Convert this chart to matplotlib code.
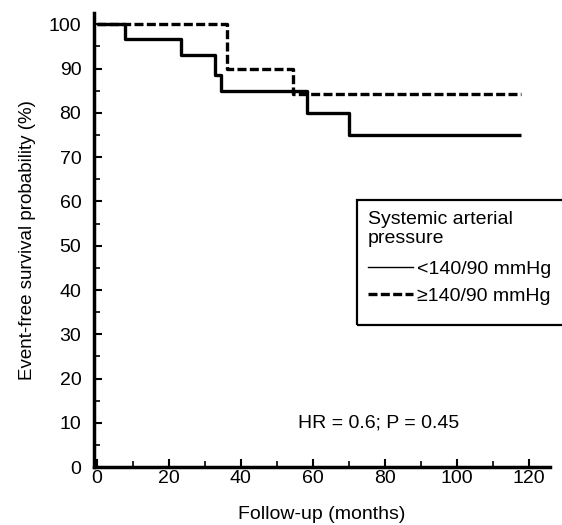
import matplotlib.pyplot as plt
from matplotlib.lines import Line2D
from matplotlib.patches import Rectangle

plt.rcParams['font.family'] = ['Liberation Sans', 'DejaVu Sans']

# Kaplan-Meier step data (months, survival %)
low_t = [0, 7.8, 23.5, 33, 34.6, 58.4, 70, 118]
low_s = [100, 96.6, 93.0, 88.6, 85.0, 80.0, 75.0, 75.0]
high_t = [0, 36.3, 54.6, 118]
high_s = [100, 90.0, 84.3, 84.3]

x_ticks = [0, 20, 40, 60, 80, 100, 120]
y_ticks = [0, 10, 20, 30, 40, 50, 60, 70, 80, 90, 100]

dash = (0, (2.7, 1.0))

fig = plt.figure(figsize=(5.62, 5.25), dpi=100)
ax = fig.add_axes([0.167, 0.110, 0.812, 0.865])

ax.step(low_t, low_s, where='post', color='black', lw=2.4, solid_capstyle='butt')
ax.step(high_t, high_s, where='post', color='black', lw=2.4, linestyle=dash)

ax.set_xlim(-0.8, 126)
ax.set_ylim(0, 102.5)
ax.set_xticks(x_ticks)
ax.set_yticks(y_ticks)
ax.set_xticks(range(10, 126, 20), minor=True)
ax.set_yticks(range(5, 101, 10), minor=True)
ax.tick_params(direction='in', length=6, width=1.5, labelsize=14)
ax.tick_params(axis='y', pad=9)
ax.tick_params(axis='x', pad=2)
ax.tick_params(which='minor', direction='in', length=4.5, width=1.2)

for side in ['top', 'right']:
    ax.spines[side].set_visible(False)
ax.spines['left'].set_linewidth(2.5)
ax.spines['bottom'].set_linewidth(2.5)

ax.set_xlabel('Follow-up (months)', fontsize=14, labelpad=14)
ax.set_ylabel('Event-free survival probability (%)', fontsize=13.5, labelpad=9)

ax.text(56, 10, 'HR = 0.6; P = 0.45', fontsize=14, va='center')

# legend box runs off the right edge of the figure
fig.add_artist(Rectangle((357 / 562, 1 - 325 / 525), 0.5, 125 / 525,
                         transform=fig.transFigure, fill=False,
                         edgecolor='black', lw=1.6))

handles = [Line2D([], [], color='black', lw=1.0),
           Line2D([], [], color='black', lw=2.4, linestyle=dash)]
leg = ax.legend(handles, ['<140/90 mmHg', '\u2265140/90 mmHg'],
                title='Systemic arterial\npressure', title_fontsize=14, fontsize=14,
                loc='upper left', bbox_to_anchor=(364 / 562, 1 - 207 / 525),
                bbox_transform=fig.transFigure, frameon=False,
                handlelength=2.3, handletextpad=0.25,
                borderpad=0.2, labelspacing=0.5, borderaxespad=0)
leg._legend_box.align = 'left'
leg._legend_box.sep = 9

fig.savefig('out.png', dpi=100)
